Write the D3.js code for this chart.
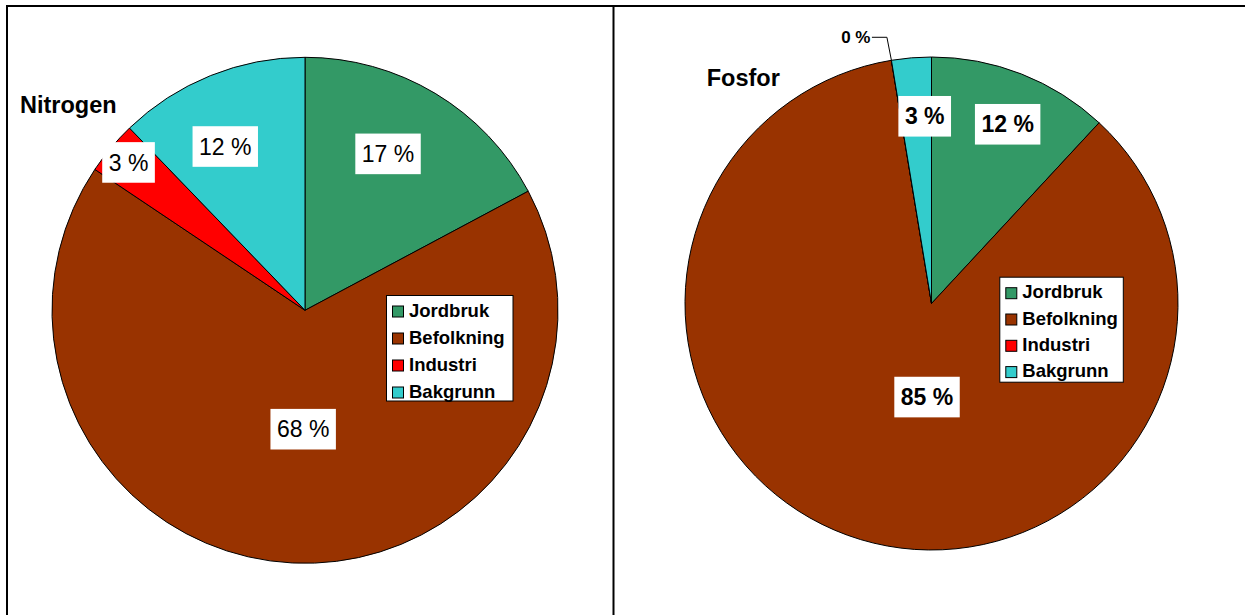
<!DOCTYPE html>
<html>
<head>
<meta charset="utf-8">
<script src="https://cdn.jsdelivr.net/npm/d3@7"></script>
<style>
  body { margin: 0; background: #fff; }
  text { font-family: Arial, "Liberation Sans", sans-serif; }
</style>
</head>
<body>
<div id="chart"></div>
<script>
var w = 1245, h = 615;

// data
var categories = ["Jordbruk", "Befolkning", "Industri", "Bakgrunn"];
var colors = ["#339966", "#993300", "#ff0000", "#33cccc"];
var nitrogen_values = [17.2, 67.2, 3.4, 12.2];
var nitrogen_labels = ["17 %", "68 %", "3 %", "12 %"];
var fosfor_values = [11.9, 85.5, 0, 2.6];
var fosfor_labels = ["12 %", "85 %", "0 %", "3 %"];

// layout of the two panels
var panels = [
  { title: "Nitrogen", values: nitrogen_values, labels: nitrogen_labels,
    cx: 305, cy: 310.3, r: 253, tx: 20, ty: 113.3, weight: "normal",
    lrad: [0.70, 0.47, 0.91, 0.72], lshift: [-3, -2, 0, -4],
    legend: { x: 386, y: 295, w: 126.5, h: 105.5, step: 27 } },
  { title: "Fosfor", values: fosfor_values, labels: fosfor_labels,
    cx: 931.5, cy: 303.5, r: 246.5, tx: 706.7, ty: 86, weight: "bold",
    lrad: [0.79, 0.38, null, 0.76], lshift: [1.6, -14, 0, 2.6],
    legend: { x: 999.3, y: 276.7, w: 123.5, h: 105, step: 26.3 } }
];

var svg = d3.select("#chart")
    .append("svg")
    .attr("width", w)
    .attr("height", h);

// frame
svg.append("path")
    .attr("d", "M7," + h + "V6H" + w + "M613.5,6V" + h)
    .attr("fill", "none")
    .attr("stroke", "#000")
    .attr("stroke-width", 2);

var pie = d3.pie().sort(null).value(function(d) { return d; });

panels.forEach(function(p) {
    var g = svg.append("g")
	.attr("transform", "translate(" + p.cx + "," + p.cy + ")");
    var arc = d3.arc().innerRadius(0).outerRadius(p.r);
    var arcs = pie(p.values);

    g.selectAll(".slice")
	.data(arcs)
	.enter()
	.append("path")
	.attr("class", "slice")
	.attr("d", arc)
	.attr("fill", function(d, i) { return colors[i]; })
	.attr("stroke", "#000")
	.attr("stroke-width", 1);

    // data labels
    arcs.forEach(function(d, i) {
	var mid = (d.startAngle + d.endAngle) / 2;
	if (p.lrad[i] == null) {
	    // leader line for the empty slice
	    var px = p.r * Math.sin(mid), py = -p.r * Math.cos(mid);
	    g.append("path")
		.attr("d", "M" + px + "," + py + "L" + (px - 4.5) + "," + (py - 23)
		      + "H" + (px - 19.5))
		.attr("fill", "none")
		.attr("stroke", "#000")
		.attr("stroke-width", 1);
	    g.append("text")
		.attr("x", px - 21)
		.attr("y", py - 17)
		.attr("text-anchor", "end")
		.style("font-size", "17px")
		.style("font-weight", "bold")
		.text(p.labels[i]);
	    return;
	}
	var a = mid + p.lshift[i] * Math.PI / 180;
	var lx = p.lrad[i] * p.r * Math.sin(a),
	    ly = -p.lrad[i] * p.r * Math.cos(a);
	var lg = g.append("g").attr("transform", "translate(" + lx + "," + ly + ")");
	var rect = lg.append("rect").attr("fill", "#fff");
	var t = lg.append("text")
	    .attr("text-anchor", "middle")
	    .attr("y", 8.2)
	    .style("font-size", "23px")
	    .style("font-weight", p.weight)
	    .attr("fill", "#000")
	    .text(p.labels[i]);
	var bb = t.node().getBBox();
	rect.attr("x", -bb.width / 2 - 6.5)
	    .attr("y", -20.3)
	    .attr("width", bb.width + 13)
	    .attr("height", 40.6);
    });

    // title
    svg.append("text")
	.attr("x", p.tx)
	.attr("y", p.ty)
	.style("font-size", "23.5px")
	.style("font-weight", "bold")
	.text(p.title);

    // legend
    var L = p.legend;
    var lgd = svg.append("g").attr("transform", "translate(" + L.x + "," + L.y + ")");
    lgd.append("rect")
	.attr("x", 0.5).attr("y", 0.5)
	.attr("width", L.w).attr("height", L.h)
	.attr("fill", "#fff")
	.attr("stroke", "#000")
	.attr("stroke-width", 1);
    var item = lgd.selectAll(".item")
	.data(categories)
	.enter()
	.append("g")
	.attr("class", "item")
	.attr("transform", function(d, i) { return "translate(0," + (21.5 + i * L.step) + ")"; });
    item.append("rect")
	.attr("x", 6.5).attr("y", -10.5)
	.attr("width", 11).attr("height", 11)
	.attr("fill", function(d, i) { return colors[i]; })
	.attr("stroke", "#000")
	.attr("stroke-width", 1);
    item.append("text")
	.attr("x", 23)
	.attr("y", 0)
	.style("font-size", "18.5px")
	.style("font-weight", "bold")
	.text(function(d) { return d; });
});
</script>
</body>
</html>
